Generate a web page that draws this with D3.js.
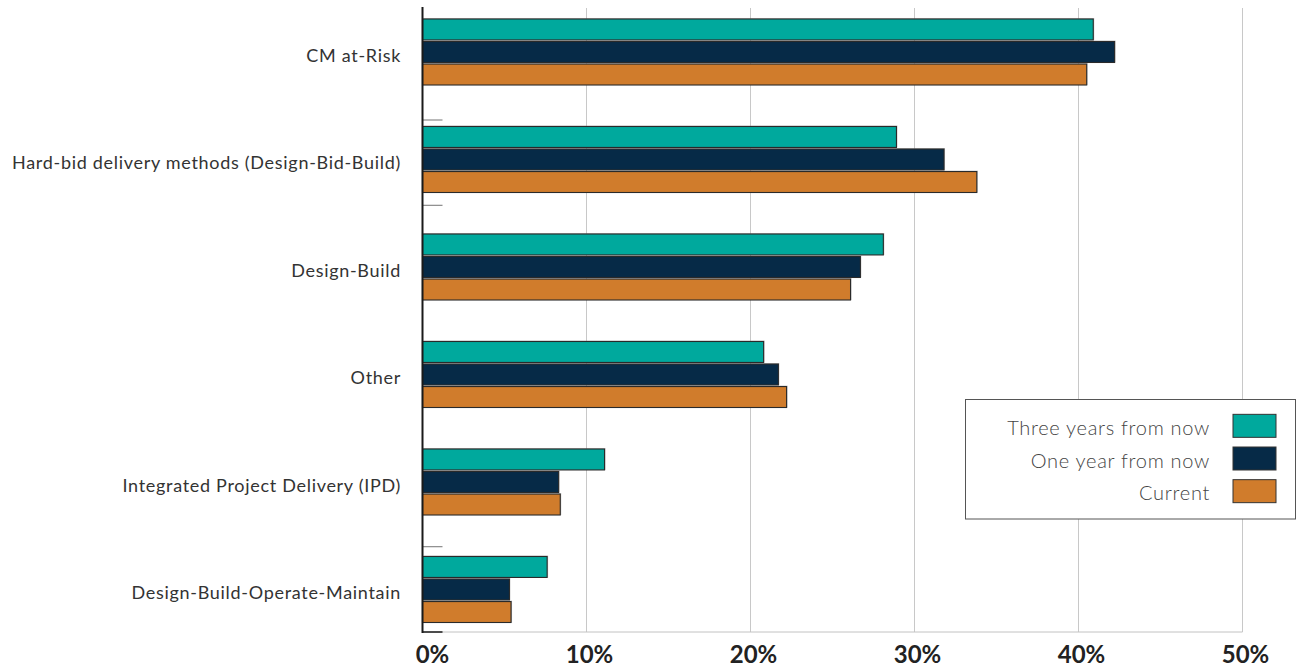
<!DOCTYPE html>
<html>
<head>
<meta charset="utf-8">
<script src="https://cdn.jsdelivr.net/npm/d3@7"></script>
<style>
  html, body { margin: 0; padding: 0; background: #fff; }
  svg { display: block; }
  .cat { font-family: "Lato", sans-serif; font-size: 18px; letter-spacing: 0.7px; fill: #333; }
  .tick-label { font-family: "Lato", sans-serif; font-weight: 700; font-size: 24px; fill: #222; }
  .legend-text { font-family: "Lato", sans-serif; font-weight: 300; font-size: 20px; letter-spacing: 0.7px; fill: #444; }
</style>
</head>
<body>
<svg id="chart" width="1297" height="671"></svg>
<script>
// Delivery methods, top to bottom
const categories = [
  "CM at-Risk",
  "Hard-bid delivery methods (Design-Bid-Build)",
  "Design-Build",
  "Other",
  "Integrated Project Delivery (IPD)",
  "Design-Build-Operate-Maintain"
];

const seriesNames = ["Three years from now", "One year from now", "Current"];
const seriesColors = ["#00a99d", "#062a47", "#d07c2c"];

// Share of respondents (%) per series, in category order
const threeYears = [40.9, 28.9, 28.1, 20.8, 11.1, 7.6];
const oneYear    = [42.2, 31.8, 26.7, 21.7, 8.3, 5.3];
const current    = [40.5, 33.8, 26.1, 22.2, 8.4, 5.4];

const xTicks = [0, 10, 20, 30, 40, 50];
const xTickLabels = ["0%", "10%", "20%", "30%", "40%", "50%"];

const seriesValues = [threeYears, oneYear, current];

const svg = d3.select("#chart");

const plotLeft = 422.5, plotRight = 1242.5, plotTop = 8, plotBottom = 632;

const x = d3.scaleLinear().domain([0, 50]).range([plotLeft, plotRight]);

const y = d3.scaleBand()
  .domain(categories)
  .range([-1.75, 643.25])
  .paddingInner(0.386)
  .paddingOuter(0.193);

const ySub = d3.scaleBand()
  .domain(seriesNames)
  .range([0, y.bandwidth()])
  .paddingInner(0.07);

// Vertical gridlines
svg.append("g")
  .selectAll("line")
  .data(xTicks.slice(1))
  .join("line")
  .attr("x1", d => x(d)).attr("x2", d => x(d))
  .attr("y1", plotTop).attr("y2", plotBottom)
  .attr("stroke", "#c8c8c8").attr("stroke-width", 1);

// Baseline along the bottom
svg.append("line")
  .attr("x1", plotLeft).attr("x2", plotRight)
  .attr("y1", plotBottom).attr("y2", plotBottom)
  .attr("stroke", "#c2c2c2").attr("stroke-width", 1);

// Small minor tick marks along the value axis
const minor = d3.scaleLinear().domain([0, 7.3125]).range([plotBottom, plotTop]);
svg.append("g")
  .selectAll("line")
  .data(d3.range(1, 8))
  .join("line")
  .attr("x1", plotLeft).attr("x2", plotLeft + 20)
  .attr("y1", d => minor(d)).attr("y2", d => minor(d))
  .attr("stroke", "#8a8a8a").attr("stroke-width", 1.2);

// Bars
const groups = svg.append("g")
  .selectAll("g")
  .data(categories)
  .join("g")
  .attr("transform", d => `translate(0,${y(d)})`);

const barData = (c, ci) => seriesNames.map((s, si) => ({ s, si, v: seriesValues[si][ci] }));

// soft drop shadow under bars
groups.selectAll("rect.shadow")
  .data((c, ci) => barData(c, ci))
  .join("rect")
  .attr("class", "shadow")
  .attr("x", x(0) + 1)
  .attr("y", d => ySub(d.s) - 1)
  .attr("width", d => x(d.v) - x(0))
  .attr("height", ySub.bandwidth() + 1)
  .attr("fill", "#9a9a9a")
  .attr("opacity", 0.55);

groups.selectAll("rect.bar")
  .data((c, ci) => barData(c, ci))
  .join("rect")
  .attr("class", "bar")
  .attr("x", x(0))
  .attr("y", d => ySub(d.s))
  .attr("width", d => x(d.v) - x(0))
  .attr("height", ySub.bandwidth())
  .attr("fill", d => seriesColors[d.si])
  .attr("stroke", "#2a2a2a")
  .attr("stroke-width", 1.1);

// Category axis line
svg.append("line")
  .attr("x1", plotLeft).attr("x2", plotLeft)
  .attr("y1", plotTop - 1).attr("y2", plotBottom + 1)
  .attr("stroke", "#1a1a1a").attr("stroke-width", 2);
svg.append("line")
  .attr("x1", plotLeft).attr("x2", plotLeft + 20)
  .attr("y1", plotBottom).attr("y2", plotBottom)
  .attr("stroke", "#1a1a1a").attr("stroke-width", 1.5);

// Category labels
svg.append("g")
  .selectAll("text")
  .data(categories)
  .join("text")
  .attr("class", "cat")
  .attr("x", 401)
  .attr("y", d => y(d) + y.bandwidth() / 2)
  .attr("dy", "0.55em")
  .attr("text-anchor", "end")
  .text(d => d);

// Value axis labels
svg.append("g")
  .selectAll("text")
  .data(xTicks)
  .join("text")
  .attr("class", "tick-label")
  .attr("x", (d, i) => x(d) + (i === 0 ? 10 : 3))
  .attr("y", 663)
  .attr("text-anchor", "middle")
  .text((d, i) => xTickLabels[i]);

// Legend
const legend = svg.append("g");
legend.append("rect")
  .attr("x", 965.5).attr("y", 399.5)
  .attr("width", 330).attr("height", 119.5)
  .attr("fill", "#fff").attr("stroke", "#555").attr("stroke-width", 1);

const legendRow = d3.scaleBand().domain(seriesNames).range([409.5, 507.5]);
const items = legend.selectAll("g.item")
  .data(seriesNames)
  .join("g")
  .attr("class", "item")
  .attr("transform", d => `translate(0,${legendRow(d) + legendRow.bandwidth() / 2})`);

items.append("rect")
  .attr("x", 1233).attr("y", -11.5)
  .attr("width", 43).attr("height", 23)
  .attr("fill", (d, i) => seriesColors[i])
  .attr("stroke", "#333").attr("stroke-width", 1);

items.append("text")
  .attr("class", "legend-text")
  .attr("x", 1210)
  .attr("y", 0)
  .attr("dy", "0.45em")
  .attr("text-anchor", "end")
  .text(d => d);
</script>
</body>
</html>
